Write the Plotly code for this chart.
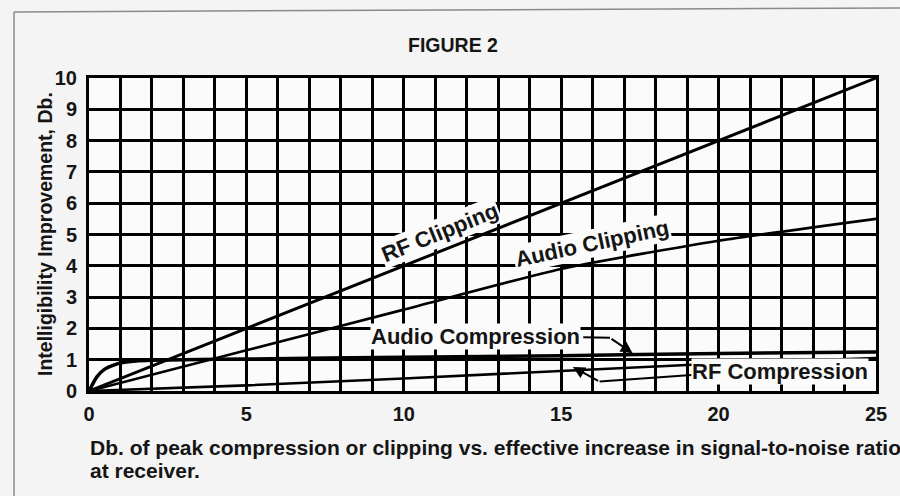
import plotly.graph_objects as go

# ---- data ----
rf_clip_x = [0, 5, 10, 15, 20, 25]
rf_clip_y = [0, 2, 4, 6, 8, 10]

audio_clip_x = [0, 5, 10, 15, 20, 25]
audio_clip_y = [0, 1.3, 2.6, 3.9, 4.8, 5.5]

audio_comp_x = [0, 0.25, 0.5, 1, 1.5, 2, 3, 5, 10, 15, 20, 25]
audio_comp_y = [0, 0.45, 0.7, 0.9, 0.96, 0.98, 1.0, 1.02, 1.08, 1.13, 1.2, 1.25]

rf_comp_x = [0, 5, 10, 15, 20, 25]
rf_comp_y = [0, 0.18, 0.4, 0.65, 0.88, 1.05]

x_ticks = [0, 5, 10, 15, 20, 25]
y_ticks = [0, 1, 2, 3, 4, 5, 6, 7, 8, 9, 10]

FONT = "Liberation Sans, Arial, Helvetica, sans-serif"
BG = "#f4f4f4"
PLOT_BG = "#fbfbfb"
TXT = "#151515"

fig = go.Figure()
for xs, ys, w, shp in [(rf_clip_x, rf_clip_y, 3, "linear"),
                       (audio_clip_x, audio_clip_y, 2.6, "spline"),
                       (rf_comp_x, rf_comp_y, 2.6, "linear"),
                       (audio_comp_x, audio_comp_y, 3.5, "spline")]:
    fig.add_trace(go.Scatter(x=xs, y=ys, mode="lines",
                             line=dict(color="black", width=w, shape=shp, smoothing=0.6),
                             showlegend=False, hoverinfo="skip"))

ann = []
# in-plot labels
ann.append(dict(x=11.14, y=5.08, xref="x", yref="y", text="<b>RF Clipping</b>",
                textangle=-22, showarrow=False, bgcolor=PLOT_BG,
                font=dict(family=FONT, size=22, color=TXT)))
ann.append(dict(x=15.97, y=4.7, xref="x", yref="y", text="<b>Audio Clipping</b>",
                textangle=-12, showarrow=False, bgcolor=PLOT_BG,
                font=dict(family=FONT, size=22, color=TXT)))
ann.append(dict(x=12.29, y=1.73, xref="x", yref="y", text="<b>Audio Compression</b>",
                showarrow=False, bgcolor=PLOT_BG, borderpad=0,
                font=dict(family=FONT, size=22, color=TXT)))
ann.append(dict(x=21.94, y=0.61, xref="x", yref="y", text="<b>RF Compression</b>",
                showarrow=False, bgcolor=PLOT_BG, borderpad=0,
                font=dict(family=FONT, size=22, color=TXT)))
# leader arrows
ann.append(dict(x=17.27, y=1.21, xref="x", yref="y", ax=16.55, ay=1.70,
                axref="x", ayref="y", text="", showarrow=True,
                arrowhead=2, arrowsize=1.2, arrowwidth=2, arrowcolor="black"))
ann.append(dict(x=15.37, y=0.77, xref="x", yref="y", ax=16.22, ay=0.30,
                axref="x", ayref="y", text="", showarrow=True,
                arrowhead=2, arrowsize=1.2, arrowwidth=2, arrowcolor="black"))
# title, axis title, caption
ann.append(dict(x=0.4625, y=1.105, xref="paper", yref="paper", text="<b>FIGURE 2</b>",
                xanchor="center", yanchor="middle",
                showarrow=False, font=dict(family=FONT, size=19.5, color=TXT)))
ann.append(dict(x=-0.0559, y=0.5016, xref="paper", yref="paper",
                xanchor="center", yanchor="middle",
                text="<b>Intelligibility Improvement, Db.</b>", textangle=-90,
                showarrow=False, font=dict(family=FONT, size=19.5, color=TXT)))
ann.append(dict(x=-0.0013, y=-0.179, xref="paper", yref="paper",
                xanchor="left", yanchor="middle",
                text="<b>Db. of peak compression or clipping vs. effective increase in signal-to-noise ratio</b>",
                showarrow=False, font=dict(family=FONT, size=21, color=TXT)))
ann.append(dict(x=-0.0013, y=-0.255, xref="paper", yref="paper",
                xanchor="left", yanchor="middle",
                text="<b>at receiver.</b>",
                showarrow=False, font=dict(family=FONT, size=21, color=TXT)))

shapes = [
    # leader segments
    dict(type="line", xref="x", yref="y", x0=15.7, y0=1.72, x1=16.55, y1=1.70,
         line=dict(color="black", width=2)),
    dict(type="line", xref="x", yref="y", x0=19.14, y0=0.51, x1=16.22, y1=0.30,
         line=dict(color="black", width=2)),
    # outer frame
    dict(type="line", xref="paper", yref="paper", x0=-0.0953, y0=1.211, x1=-0.0953, y1=-0.5,
         line=dict(color="#8a8a8a", width=1.5)),
    dict(type="line", xref="paper", yref="paper", x0=-0.0953, y0=1.211, x1=1.05, y1=1.224,
         line=dict(color="#8a8a8a", width=1.5)),
]

fig.update_layout(
    width=900, height=496,
    margin=dict(l=89, r=24, t=78, b=105),
    paper_bgcolor=BG, plot_bgcolor=PLOT_BG,
    annotations=ann, shapes=shapes,
    font=dict(family=FONT, color=TXT),
)
fig.update_xaxes(range=[0, 25], tickvals=x_ticks, ticktext=[f"<b>{v}</b>" for v in x_ticks],
                 showgrid=True, gridcolor="black", gridwidth=2.5,
                 minor=dict(dtick=1, showgrid=True, gridcolor="black", gridwidth=2.5),
                 showline=True, linecolor="black", linewidth=3, mirror=True,
                 zeroline=False, ticks="", ticklabelstandoff=3,
                 tickfont=dict(family=FONT, size=20, color=TXT))
fig.update_yaxes(range=[0, 10], tickvals=y_ticks, ticktext=[f"<b>{v}</b>" for v in y_ticks],
                 showgrid=True, gridcolor="black", gridwidth=2.5,
                 showline=True, linecolor="black", linewidth=3, mirror=True,
                 zeroline=False, ticks="", ticklabelstandoff=5,
                 tickfont=dict(family=FONT, size=20, color=TXT))

fig.write_html("out.html", config={"displayModeBar": False},
               post_script="document.body.style.margin='0';document.body.style.overflow='hidden';"
                           "document.body.style.background='" + BG + "';")
